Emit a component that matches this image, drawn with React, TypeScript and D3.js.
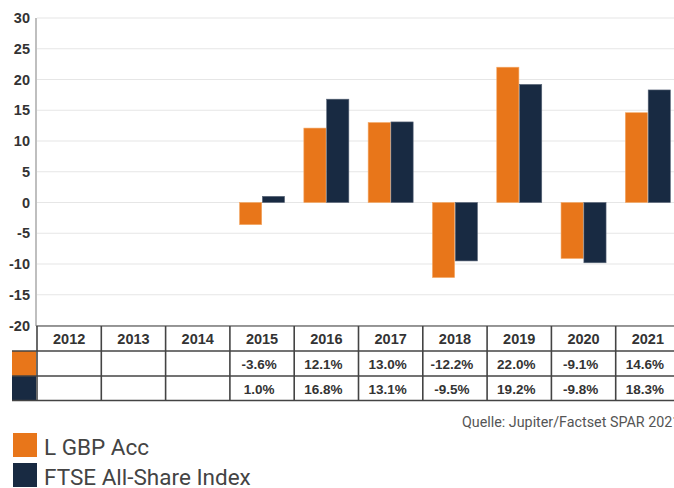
import React, { useEffect, useRef } from "react";
import * as d3 from "d3";

const years = ["2012", "2013", "2014", "2015", "2016", "2017", "2018", "2019", "2020", "2021"];
const fundValues: (number | null)[] = [null, null, null, -3.6, 12.1, 13.0, -12.2, 22.0, -9.1, 14.6];
const indexValues: (number | null)[] = [null, null, null, 1.0, 16.8, 13.1, -9.5, 19.2, -9.8, 18.3];
const seriesNames = ["L GBP Acc", "FTSE All-Share Index"];
const seriesColors = ["#E8761A", "#182A42"];
const yTicks = [30, 25, 20, 15, 10, 5, 0, -5, -10, -15, -20];
const sourceText = "Quelle: Jupiter/Factset SPAR 2021";

const W = 674;
const H = 488;

export default function App() {
  const ref = useRef<SVGSVGElement>(null);
  useEffect(() => {
    const svg = d3.select(ref.current);
    svg.selectAll("*").remove();

    const left = 37;
    const colW = 64.3;
    const x = d3.scaleBand<string>().domain(years).range([left, left + colW * years.length]).paddingInner(0).paddingOuter(0);
    const y = d3.scaleLinear().domain([-20, 30]).range([325.5, 18]);

    // gridlines
    svg.append("g").selectAll("line").data(yTicks).join("line")
      .attr("x1", left).attr("x2", W)
      .attr("y1", d => y(d)).attr("y2", d => y(d))
      .attr("stroke", "#e6e6e6").attr("stroke-width", 1.2);

    // y tick labels
    svg.append("g").selectAll("text").data(yTicks).join("text")
      .attr("x", 30).attr("y", d => y(d) + 5)
      .attr("text-anchor", "end")
      .attr("font-family", "Liberation Sans, Arial, sans-serif")
      .attr("font-weight", "bold").attr("font-size", 14.5)
      .attr("fill", "#333").text(d => String(d));

    // bars
    const inner = d3.scaleBand<number>().domain([0, 1]).range([0, 45]).paddingInner(0.03);
    const off = (colW - 45) / 2;
    [fundValues, indexValues].forEach((vals, si) => {
      svg.append("g").selectAll("rect").data(years.map((yr, i) => ({ yr, v: vals[i] })).filter(d => d.v !== null))
        .join("rect")
        .attr("x", d => (x(d.yr) as number) + off + (inner(si) as number))
        .attr("width", inner.bandwidth())
        .attr("y", d => y(Math.max(0, d.v as number)))
        .attr("height", d => Math.abs(y(d.v as number) - y(0)))
        .attr("fill", seriesColors[si])
        .attr("stroke", si === 0 ? "#f4a866" : "#5a6678")
        .attr("stroke-width", 0.6);
    });

    // y axis line
    svg.append("line").attr("x1", 36).attr("x2", 36).attr("y1", 18).attr("y2", 326)
      .attr("stroke", "#aaa").attr("stroke-width", 1.5);

    // table
    const rowY = [326, 351, 376, 400.5];
    const tg = svg.append("g");
    seriesColors.forEach((c, i) => {
      tg.append("rect").attr("x", 12).attr("y", rowY[i + 1]).attr("width", 24).attr("height", rowY[i + 2] - rowY[i + 1]).attr("fill", c);
    });
    const lineColor = "#444";
    rowY.forEach((yy, i) => {
      tg.append("line").attr("x1", i === 0 ? 36 : 12).attr("x2", W).attr("y1", yy).attr("y2", yy)
        .attr("stroke", i === 0 ? "#777" : lineColor).attr("stroke-width", 1.6);
    });
    const xs = years.map(yr => x(yr) as number);
    xs.forEach((xx) => {
      tg.append("line").attr("x1", xx).attr("x2", xx).attr("y1", 326).attr("y2", 400.5)
        .attr("stroke", lineColor).attr("stroke-width", 1.6);
    });
    tg.selectAll("text.hdr").data(years).join("text").attr("class", "hdr")
      .attr("x", d => (x(d) as number) + colW / 2).attr("y", 344)
      .attr("text-anchor", "middle")
      .attr("font-family", "Liberation Sans, Arial, sans-serif")
      .attr("font-weight", "bold").attr("font-size", 14.5).attr("fill", "#333").text(d => d);
    [fundValues, indexValues].forEach((vals, si) => {
      tg.append("g").selectAll("text").data(years.map((yr, i) => ({ yr, v: vals[i] })).filter(d => d.v !== null))
        .join("text")
        .attr("x", d => (x(d.yr) as number) + colW / 2 - 3)
        .attr("y", rowY[si + 1] + 18)
        .attr("text-anchor", "middle")
        .attr("font-family", "Liberation Sans, Arial, sans-serif")
        .attr("font-weight", "bold").attr("font-size", 13.5).attr("fill", "#333")
        .text(d => (d.v as number).toFixed(1) + "%");
    });

    // source
    svg.append("text").attr("x", 462).attr("y", 427)
      .attr("font-family", "Roboto, sans-serif").attr("font-size", 14.3).attr("fill", "#555")
      .text(sourceText);

    // legend
    seriesNames.forEach((n, i) => {
      const ly = 433 + i * 30;
      svg.append("rect").attr("x", 13).attr("y", ly).attr("width", 24).attr("height", 24).attr("fill", seriesColors[i]);
      svg.append("text").attr("x", 44).attr("y", ly + 22)
        .attr("font-family", "Roboto, sans-serif").attr("font-size", 22.5).attr("fill", "#444")
        .text(n);
    });
  }, []);
  return (
    <svg ref={ref} width={W} height={H} style={{ position: "absolute", left: 0, top: 0, display: "block", background: "#fff" }} />
  );
}
